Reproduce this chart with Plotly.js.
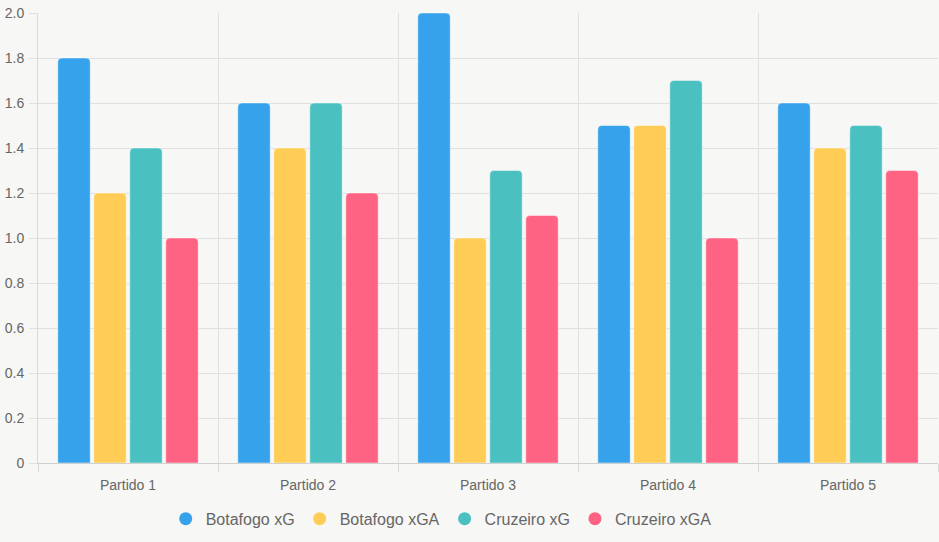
<!DOCTYPE html>
<html>
<head>
<meta charset="utf-8">
<script src="https://cdn.plot.ly/plotly-3.0.1.min.js"></script>
<style>
  html, body { margin: 0; padding: 0; background: #f7f7f5; }
  #chart { width: 939px; height: 542px; }
</style>
</head>
<body>
<div id="chart"></div>
<script>
// Expected goals per match, Botafogo vs Cruzeiro
const partidos = ['Partido 1', 'Partido 2', 'Partido 3', 'Partido 4', 'Partido 5'];
const botafogoXG  = [1.8, 1.6, 2.0, 1.5, 1.6];
const botafogoXGA = [1.2, 1.4, 1.0, 1.5, 1.4];
const cruzeiroXG  = [1.4, 1.6, 1.3, 1.7, 1.5];
const cruzeiroXGA = [1.0, 1.2, 1.1, 1.0, 1.3];

const seriesNames = ['Botafogo xG', 'Botafogo xGA', 'Cruzeiro xG', 'Cruzeiro xGA'];
const seriesValues = [botafogoXG, botafogoXGA, cruzeiroXG, cruzeiroXGA];
const colors = ['rgb(54,162,235)', 'rgb(255,205,86)', 'rgb(75,192,192)', 'rgb(255,99,132)'];

const yTickVals = [0, 0.2, 0.4, 0.6, 0.8, 1.0, 1.2, 1.4, 1.6, 1.8, 2.0];
const yTickText = ['0', '0.2', '0.4', '0.6', '0.8', '1.0', '1.2', '1.4', '1.6', '1.8', '2.0'];

const traces = [];
seriesValues.forEach((vals, i) => {
  traces.push({
    type: 'bar',
    name: seriesNames[i],
    x: partidos,
    y: vals,
    marker: { color: colors[i], line: { color: 'rgba(255,255,255,0.45)', width: 1 } },
    showlegend: false,
    hoverinfo: 'x+y+name'
  });
});
// Round legend markers
seriesNames.forEach((name, i) => {
  traces.push({
    type: 'scatter',
    mode: 'markers',
    name: name,
    x: [null], y: [null],
    marker: { color: colors[i], size: 13, symbol: 'circle' },
    showlegend: true,
    hoverinfo: 'skip'
  });
});

const layout = {
  width: 939,
  height: 542,
  paper_bgcolor: '#f7f7f5',
  plot_bgcolor: '#f7f7f5',
  margin: { l: 38, r: 1, t: 13, b: 79, autoexpand: false },
  font: { family: 'Liberation Sans, Arial, sans-serif', color: '#666', size: 14 },
  barmode: 'group',
  bargap: 0.2,
  bargroupgap: 0.1,
  barcornerradius: 4,
  xaxis: {
    type: 'category',
    tickson: 'boundaries',
    ticks: 'outside',
    ticklen: 8,
    tickcolor: '#d9d9d9',
    ticklabelstandoff: 9,
    showgrid: true,
    gridcolor: '#e0e0e0',
    gridwidth: 1,
    showline: true,
    linecolor: '#d0d0d0',
    linewidth: 1,
    tickfont: { size: 14, color: '#666' },
    fixedrange: true
  },
  yaxis: {
    range: [0, 2.0],
    tickvals: yTickVals,
    ticktext: yTickText,
    ticks: 'outside',
    ticklen: 8,
    tickcolor: '#e0e0e0',
    ticklabelstandoff: 2,
    showgrid: true,
    gridcolor: '#e0e0e0',
    zeroline: false,
    showline: true,
    linecolor: '#d9d9d9',
    linewidth: 1,
    tickfont: { size: 14, color: '#666' },
    fixedrange: true
  },
  showlegend: true,
  legend: {
    orientation: 'h',
    x: 0.448,
    xanchor: 'center',
    y: -0.124,
    yanchor: 'middle',
    font: { size: 16, color: '#666' },
    itemwidth: 30,
    bgcolor: 'rgba(0,0,0,0)'
  }
};

Plotly.newPlot('chart', traces, layout, { displayModeBar: false, staticPlot: true });
</script>
</body>
</html>
